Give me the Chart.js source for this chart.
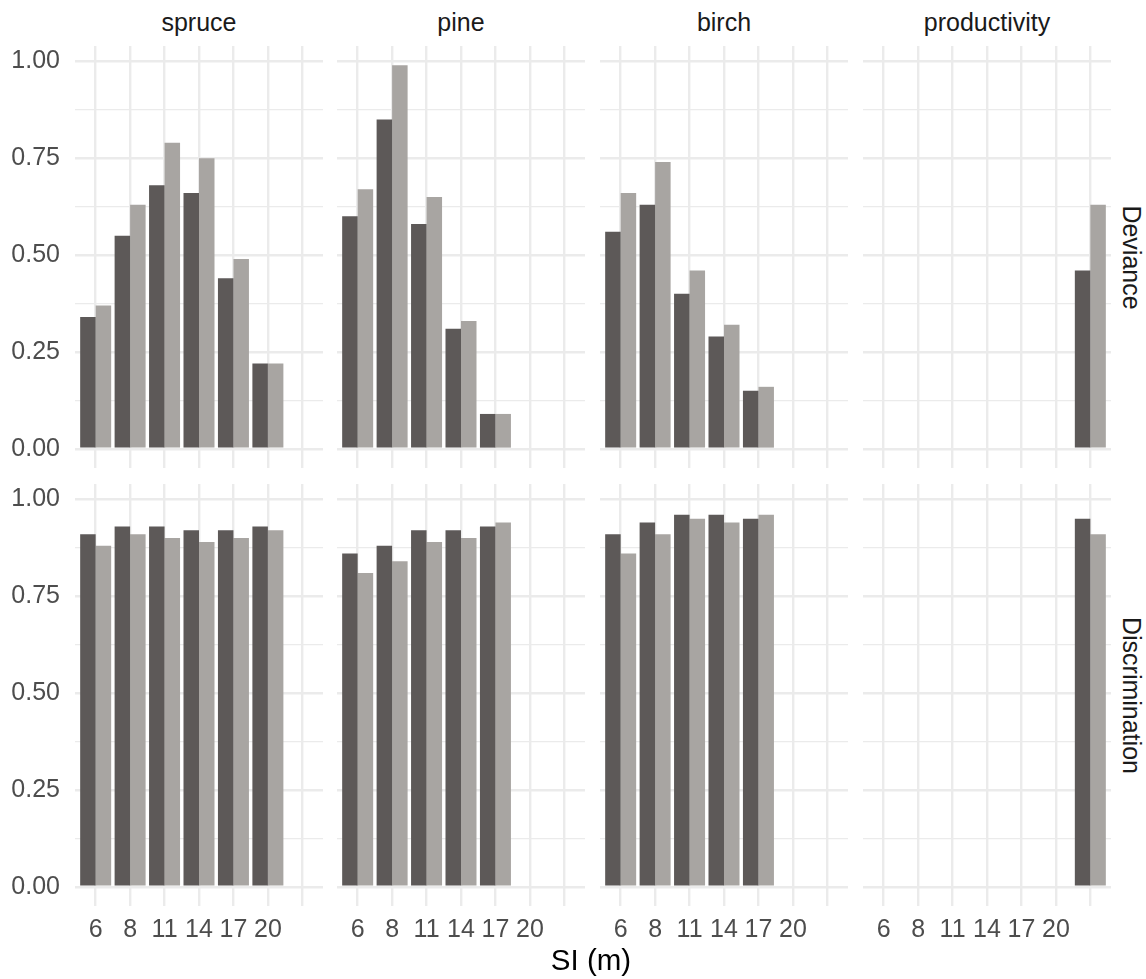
<!DOCTYPE html>
<html>
<head>
<meta charset="utf-8">
<script src="https://cdn.jsdelivr.net/npm/chart.js@4.4.1/dist/chart.umd.min.js"></script>
<style>
  body { margin: 0; background: #fff; }
  #wrap { position: relative; width: 1146px; height: 979px; background: #fff;
          font-family: "Liberation Sans", Arial, Helvetica, sans-serif; }
  .cell { position: absolute; }
  .strip { position: absolute; font-size: 25px; line-height: 25px; color: #1a1a1a;
           text-align: center; white-space: nowrap; }
  .side { width: 300px; height: 25px; transform: rotate(90deg); }
  #xtitle { position: absolute; left: 441px; width: 300px; top: 945px; font-size: 29.5px;
            line-height: 29.5px; text-align: center; color: #000; }
</style>
</head>
<body>
<div id="wrap"></div>
<script>
// x categories (SI classes); the last slot has no label
const siLabels = ['6', '8', '11', '14', '17', '20', ''];
const species = ['spruce', 'pine', 'birch', 'productivity'];
const metrics = ['Deviance', 'Discrimination'];

// Deviance, dark and light series
const spruceDevA = [0.34, 0.55, 0.68, 0.66, 0.44, 0.22, null];
const spruceDevB = [0.37, 0.63, 0.79, 0.75, 0.49, 0.22, null];
const pineDevA   = [0.60, 0.85, 0.58, 0.31, 0.09, null, null];
const pineDevB   = [0.67, 0.99, 0.65, 0.33, 0.09, null, null];
const birchDevA  = [0.56, 0.63, 0.40, 0.29, 0.15, null, null];
const birchDevB  = [0.66, 0.74, 0.46, 0.32, 0.16, null, null];
const prodDevA   = [null, null, null, null, null, null, 0.46];
const prodDevB   = [null, null, null, null, null, null, 0.63];

// Discrimination, dark and light series
const spruceDiscA = [0.91, 0.93, 0.93, 0.92, 0.92, 0.93, null];
const spruceDiscB = [0.88, 0.91, 0.90, 0.89, 0.90, 0.92, null];
const pineDiscA   = [0.86, 0.88, 0.92, 0.92, 0.93, null, null];
const pineDiscB   = [0.81, 0.84, 0.89, 0.90, 0.94, null, null];
const birchDiscA  = [0.91, 0.94, 0.96, 0.96, 0.95, null, null];
const birchDiscB  = [0.86, 0.91, 0.95, 0.94, 0.96, null, null];
const prodDiscA   = [null, null, null, null, null, null, 0.95];
const prodDiscB   = [null, null, null, null, null, null, 0.91];

const yTicks = [0, 0.125, 0.25, 0.375, 0.5, 0.625, 0.75, 0.875, 1];

const panelData = [
  [[spruceDevA, spruceDevB], [pineDevA, pineDevB], [birchDevA, birchDevB], [prodDevA, prodDevB]],
  [[spruceDiscA, spruceDiscB], [pineDiscA, pineDiscB], [birchDiscA, birchDiscB], [prodDiscA, prodDiscB]]
];

const darkColor = '#5d5958';
const lightColor = '#a8a5a2';
const gridColor = '#ebebeb';
const tickFont = { family: '"Liberation Sans", Arial, sans-serif', size: 25 };

const panelLeft = [75, 337, 600, 863];
const panelWidth = 248;
const rowTop = [46, 484];
const panelHeight = 422;
const yAxisWidth = 75;
const xAxisHeight = 55;

const wrap = document.getElementById('wrap');

function toPoints(arr) {
  return arr.map((v, i) => ({ x: i + 1, y: v })).filter(p => p.y !== null);
}

function isMajor(v) {
  return Math.abs(v * 4 - Math.round(v * 4)) < 1e-9;
}

function makePanel(row, col) {
  const div = document.createElement('div');
  div.className = 'cell';
  const left = col === 0 ? 0 : panelLeft[col];
  const width = col === 0 ? panelWidth + yAxisWidth : panelWidth;
  const height = row === 1 ? panelHeight + xAxisHeight : panelHeight;
  div.style.left = left + 'px';
  div.style.top = rowTop[row] + 'px';
  div.style.width = width + 'px';
  div.style.height = height + 'px';
  const canvas = document.createElement('canvas');
  div.appendChild(canvas);
  wrap.appendChild(div);

  const [a, b] = panelData[row][col];
  new Chart(canvas.getContext('2d'), {
    type: 'bar',
    data: {
      datasets: [
        { label: 'Series 1', data: toPoints(a), backgroundColor: darkColor,
          borderWidth: 0, categoryPercentage: 0.9, barPercentage: 1.0 },
        { label: 'Series 2', data: toPoints(b), backgroundColor: lightColor,
          borderWidth: 0, categoryPercentage: 0.9, barPercentage: 1.0 }
      ]
    },
    options: {
      responsive: true,
      maintainAspectRatio: false,
      animation: false,
      layout: { padding: 0 },
      plugins: { legend: { display: false }, tooltip: { enabled: false } },
      scales: {
        x: {
          type: 'linear',
          min: 0.4,
          max: 7.6,
          offset: false,
          border: { display: false },
          grid: { color: gridColor, lineWidth: 2.4, drawTicks: false, offset: false },
          ticks: {
            display: row === 1,
            autoSkip: false,
            maxRotation: 0,
            padding: 9,
            color: '#4d4d4d',
            font: tickFont,
            callback: (v) => siLabels[v - 1]
          },
          afterBuildTicks: (s) => { s.ticks = siLabels.map((_, i) => ({ value: i + 1 })); },
          afterFit: (s) => {
            s.height = row === 1 ? xAxisHeight : 0;
            s.paddingLeft = 0; s.paddingRight = 0;
          }
        },
        y: {
          min: -0.0495,
          max: 1.0395,
          border: { display: false },
          grid: {
            color: gridColor,
            drawTicks: false,
            lineWidth: (ctx) => (ctx.tick && isMajor(ctx.tick.value)) ? 2.4 : 1.2
          },
          ticks: {
            display: col === 0,
            padding: 15,
            color: '#4d4d4d',
            font: tickFont,
            callback: (v) => isMajor(v) ? v.toFixed(2) : ''
          },
          afterBuildTicks: (s) => { s.ticks = yTicks.map(v => ({ value: v })); },
          afterFit: (s) => {
            s.width = col === 0 ? yAxisWidth : 0;
            s.paddingTop = 0; s.paddingBottom = 0;
          }
        }
      }
    }
  });
}

for (let r = 0; r < 2; r++) {
  for (let c = 0; c < 4; c++) makePanel(r, c);
}

// facet strips on top
species.forEach((name, c) => {
  const s = document.createElement('div');
  s.className = 'strip';
  s.textContent = name;
  s.style.left = panelLeft[c] + 'px';
  s.style.width = panelWidth + 'px';
  s.style.top = '10px';
  wrap.appendChild(s);
});

// facet strips on the right, rotated
metrics.forEach((name, r) => {
  const s = document.createElement('div');
  s.className = 'strip side';
  s.textContent = name;
  const cy = rowTop[r] + panelHeight / 2;
  s.style.left = (1131 - 150) + 'px';
  s.style.top = (cy - 12.5) + 'px';
  wrap.appendChild(s);
});

const t = document.createElement('div');
t.id = 'xtitle';
t.textContent = 'SI (m)';
wrap.appendChild(t);
</script>
</body>
</html>
